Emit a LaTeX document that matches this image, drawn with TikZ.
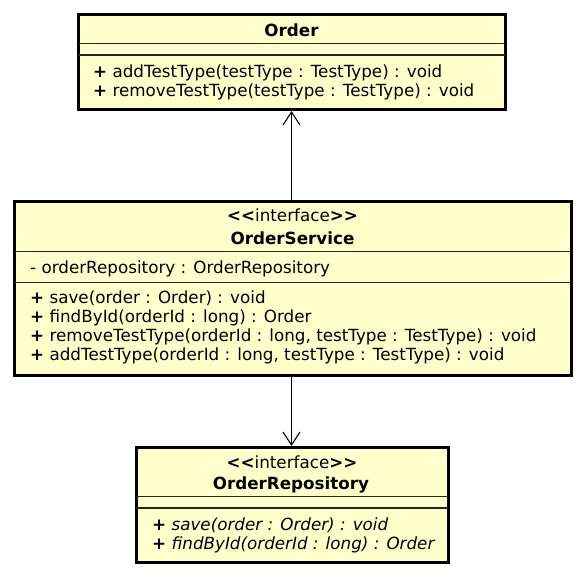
\documentclass[tikz,border=0pt]{standalone}
\usepackage{fontspec}
\setmainfont{DejaVu Sans}
\usetikzlibrary{arrows.meta}
\definecolor{classfill}{HTML}{FFFFCC}
\newcommand{\stereo}{\textbf{<\kern0pt<}interface\textbf{>\kern0pt>}}
\newcommand{\pub}{\textbf{+}}
\newcommand{\umlfont}{\fontsize{16.75}{19}\selectfont}
\begin{document}
\begin{tikzpicture}[x=1pt,y=-1pt,
  classbox/.style={draw=black, fill=classfill, line width=3pt, inner sep=0pt, rectangle},
  sep/.style={line width=1.2pt, draw=black!85},
  member/.style={anchor=base west, inner sep=0pt, font=\umlfont},
  ctitle/.style={anchor=base, inner sep=0pt, font=\umlfont},
  dep/.style={line width=1.1pt, -{Straight Barb[length=13pt,width=17pt,line width=1.1pt]}}]
\useasboundingbox (0,0) rectangle (583,576);

% Order
\node[classbox, minimum width=427pt, minimum height=95pt] (order) at (291.5,62) {};
\draw[sep] (78,43.5) -- (505,43.5);
\draw[sep] (78,55) -- (505,55);
\node[ctitle, font=\umlfont\bfseries] (orderName) at (291.5,36) {Order};
\node[member] (orderM1) at (93,77.5) {\pub{} addTestType(testType : TestType) : void};
\node[member] (orderM2) at (93,96.5) {\pub{} removeTestType(testType : TestType) : void};

% OrderService
\node[classbox, minimum width=557pt, minimum height=174pt] (service) at (292.5,288) {};
\draw[sep] (14,251.5) -- (571,251.5);
\draw[sep] (14,282.5) -- (571,282.5);
\node[ctitle] (serviceSt) at (292.5,221) {\stereo};
\node[ctitle, font=\umlfont\bfseries] (serviceName) at (292.5,244) {OrderService};
\node[member] (serviceA1) at (30,273) {- orderRepository : OrderRepository};
\node[member] (serviceM1) at (30,303) {\pub{} save(order : Order) : void};
\node[member] (serviceM2) at (30,322) {\pub{} findById(orderId : long) : Order};
\node[member] (serviceM3) at (30,341) {\pub{} removeTestType(orderId : long, testType : TestType) : void};
\node[member] (serviceM4) at (30,360) {\pub{} addTestType(orderId : long, testType : TestType) : void};

% OrderRepository
\node[classbox, minimum width=312pt, minimum height=115pt] (repo) at (292,505) {};
\draw[sep] (136,496.5) -- (448,496.5);
\draw[sep] (136,508) -- (448,508);
\node[ctitle] (repoSt) at (292,468) {\stereo};
\node[ctitle, font=\umlfont\bfseries] (repoName) at (291,489) {OrderRepository};
\node[member, font=\umlfont\itshape] (repoM1) at (152,530) {\pub{} save(order : Order) : void};
\node[member, font=\umlfont\itshape] (repoM2) at (152,549) {\pub{} findById(orderId : long) : Order};

% dependencies
\draw[dep] (service.north -| order.south) -- (order.south);
\draw[dep] (service.south -| order.south) -- (repo.north -| order.south);
\end{tikzpicture}
\end{document}
